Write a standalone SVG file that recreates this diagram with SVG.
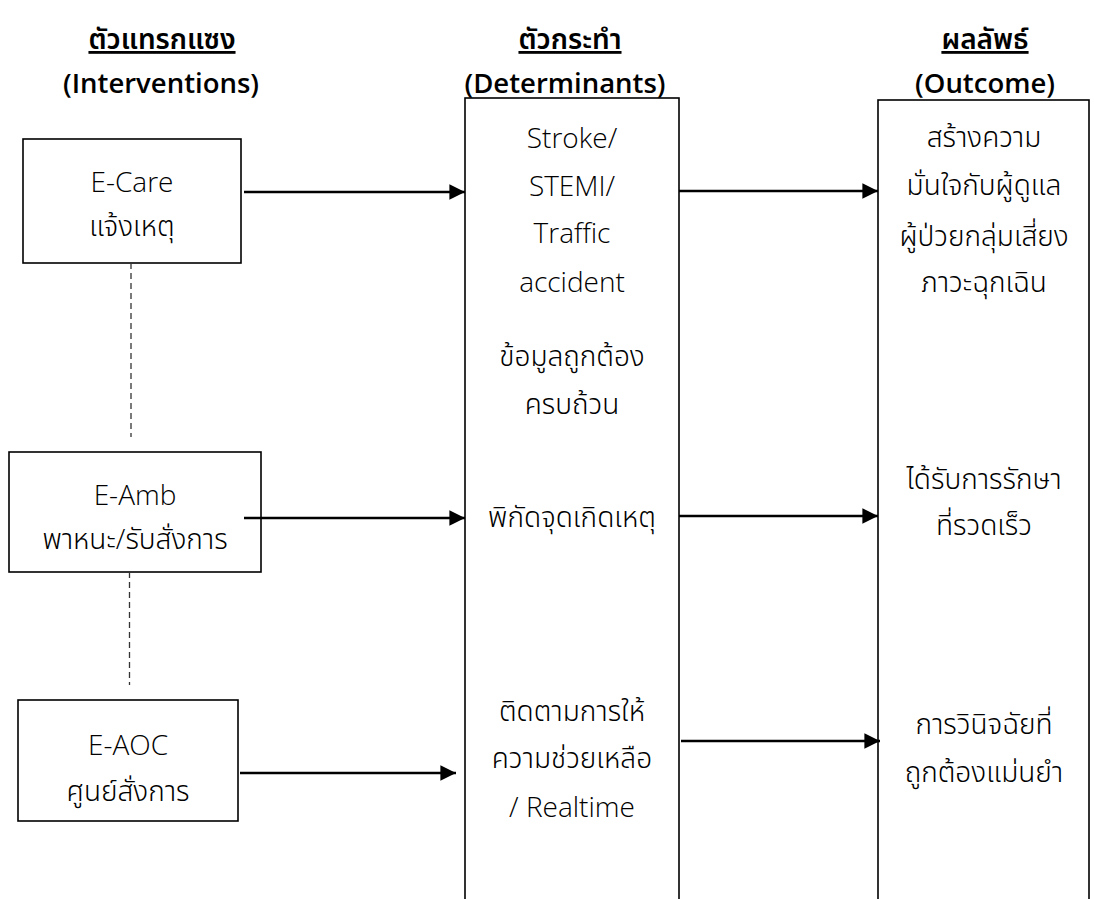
<svg xmlns="http://www.w3.org/2000/svg" width="1094" height="899" viewBox="0 0 1094 899">
  <style>
    .box { fill: #ffffff; stroke: #000000; stroke-width: 1.6; }
    .t { font-family: "Open Sans", "Noto Sans Thai", "Noto Sans", "DejaVu Sans", sans-serif; font-size: 28px; font-weight: 350; fill: #000000; text-anchor: middle; }
    .th { font-weight: 300; }
    .h { font-family: "Open Sans", "Noto Sans Thai", "Noto Sans", "DejaVu Sans", sans-serif; font-size: 27.5px; font-weight: 600; fill: #000000; text-anchor: middle; }
    .hth { font-size: 28px; text-decoration: underline; }
    .arrow { stroke: #000000; stroke-width: 2.6; fill: none; marker-end: url(#head); }
    .dash { stroke: #333333; stroke-width: 1.3; stroke-dasharray: 6 4; fill: none; }
  </style>
  <defs>
    <marker id="head" viewBox="0 0 10 10" refX="10" refY="5" markerWidth="6" markerHeight="6" markerUnits="strokeWidth" orient="auto">
      <path d="M0,0 L10,5 L0,10 Z" fill="#000000"/>
    </marker>
  </defs>
  <rect width="1094" height="899" fill="#ffffff"/>

  <!-- column headings -->
  <g id="headings">
    <text class="h hth" x="162" y="49">ตัวแทรกแซง</text>
    <text class="h" x="161" y="93">(Interventions)</text>
    <text class="h hth" x="570" y="49">ตัวกระทำ</text>
    <text class="h" x="565" y="93">(Determinants)</text>
    <text class="h hth" x="985" y="49">ผลลัพธ์</text>
    <text class="h" x="985" y="93">(Outcome)</text>
  </g>

  <!-- intervention boxes -->
  <g id="e-care">
    <rect class="box" x="23" y="139" width="218" height="124"/>
    <text class="t" x="132" y="192">E-Care</text>
    <text class="t th" x="132" y="236">แจ้งเหตุ</text>
  </g>
  <g id="e-amb">
    <rect class="box" x="9" y="452" width="252" height="120"/>
    <text class="t" x="135" y="505">E-Amb</text>
    <text class="t th" x="135" y="549">พาหนะ/รับสั่งการ</text>
  </g>
  <g id="e-aoc">
    <rect class="box" x="18" y="700" width="220" height="121"/>
    <text class="t" x="128" y="755">E-AOC</text>
    <text class="t th" x="128" y="801">ศูนย์สั่งการ</text>
  </g>

  <!-- determinants column -->
  <g id="determinants">
    <rect class="box" x="465" y="98" width="214" height="820"/>
    <text class="t" x="572" y="148">Stroke/</text>
    <text class="t" x="572" y="196">STEMI/</text>
    <text class="t" x="572" y="243">Traffic</text>
    <text class="t" x="572" y="292">accident</text>
    <text class="t th" x="572" y="366">ข้อมูลถูกต้อง</text>
    <text class="t th" x="572" y="414">ครบถ้วน</text>
    <text class="t th" x="572" y="527">พิกัดจุดเกิดเหตุ</text>
    <text class="t th" x="572" y="721">ติดตามการให้</text>
    <text class="t th" x="572" y="768">ความช่วยเหลือ</text>
    <text class="t" x="572" y="817">/ Realtime</text>
  </g>

  <!-- outcome column -->
  <g id="outcome">
    <rect class="box" x="878" y="100" width="211" height="820"/>
    <text class="t th" x="984" y="147">สร้างความ</text>
    <text class="t th" x="984" y="195">มั่นใจกับผู้ดูแล</text>
    <text class="t th" x="984" y="246">ผู้ป่วยกลุ่มเสี่ยง</text>
    <text class="t th" x="984" y="292">ภาวะฉุกเฉิน</text>
    <text class="t th" x="984" y="489">ได้รับการรักษา</text>
    <text class="t th" x="984" y="535">ที่รวดเร็ว</text>
    <text class="t th" x="984" y="734">การวินิจฉัยที่</text>
    <text class="t th" x="984" y="782">ถูกต้องแม่นยำ</text>
  </g>

  <!-- connectors -->
  <g id="connectors">
    <line class="arrow" x1="244" y1="192" x2="465" y2="192"/>
    <line class="arrow" x1="679" y1="191" x2="878" y2="191"/>
    <line class="arrow" x1="244" y1="518" x2="465" y2="518"/>
    <line class="arrow" x1="679" y1="516" x2="878" y2="516"/>
    <line class="arrow" x1="240" y1="773" x2="456" y2="773"/>
    <line class="arrow" x1="681" y1="741" x2="880" y2="741"/>
    <line class="dash" x1="131" y1="263" x2="131" y2="437"/>
    <line class="dash" x1="129.5" y1="572" x2="129.5" y2="685"/>
  </g>
</svg>
